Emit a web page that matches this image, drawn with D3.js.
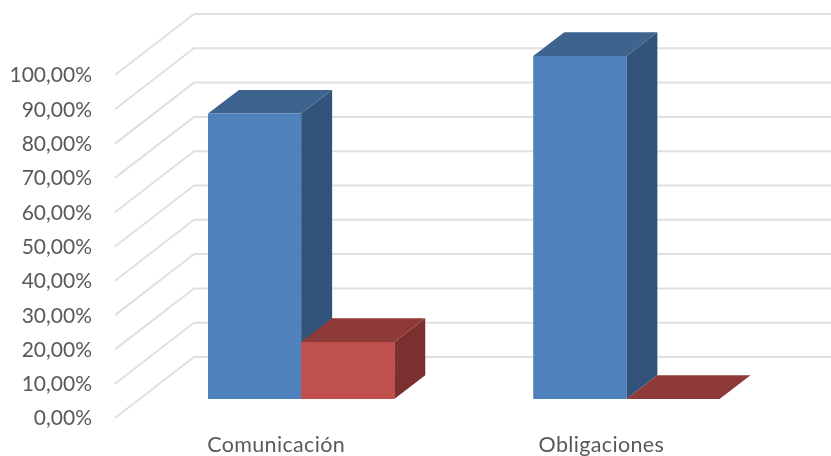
<!DOCTYPE html>
<html><head><meta charset="utf-8">
<script src="https://cdn.jsdelivr.net/npm/d3@7"></script>
<style>html,body{margin:0;padding:0;background:#fff}svg{display:block}</style>
</head><body><svg id="c" width="831" height="456"></svg>
<script>
const categories = ["Comunicación", "Obligaciones"];
const seriesNames = ["A", "B"];
const seriesA = [83.2, 100];
const seriesB = [16.6, 0];
const ticks = [0,10,20,30,40,50,60,70,80,90,100];
const frontColors = ["#4f81bd", "#c0504d"];
const topColors = ["#3e638f", "#8e3a38"];
const sideColors = ["#32547b", "#7a302e"];

const svg = d3.select("#c");
const root = svg.append("g").style("filter", "blur(0.6px)");

const yWall = d3.scaleLinear().domain([0,100]).range([418,75]);
const wall = {dx:79, dy:-61, right:831};
const yBar = d3.scaleLinear().domain([0,100]).range([399,56]);
const depth = {dx:31, dy:-23.7};

const grid = root.append("g");
grid.selectAll("path").data(ticks).join("path")
  .attr("d", t => { const y=yWall(t);
    return d3.line()([[115,y],[115+wall.dx,y+wall.dy],[wall.right,y+wall.dy]]); })
  .attr("fill","none").attr("stroke","#e0e0e0").attr("stroke-width",2);

const axis = d3.axisLeft(yWall).tickValues(ticks).tickSize(0).tickPadding(0)
  .tickFormat(t => t.toFixed(2).replace(".",",")+"%");
const ag = root.append("g").attr("transform","translate(92,0)").call(axis);
ag.select(".domain").remove();
ag.selectAll("text").attr("font-family","Lato, 'Open Sans', sans-serif").attr("font-size",21).attr("fill","#595959").attr("dy","0.33em");

const x0 = d3.scaleBand().domain(categories).range([138.5,789]);
const groupW = 186.3;
const x1 = d3.scaleBand().domain(seriesNames).range([0,groupW]);
const off = (x0.bandwidth()-groupW)/2;

const bars = [];
categories.forEach((c,i)=>{
  [seriesA,seriesB].forEach((s,j)=>bars.push({c,j,v:s[i]}));
});
const g = root.append("g");
bars.forEach(b=>{
  const l = x0(b.c)+off+x1(seriesNames[b.j]), r = l+x1.bandwidth();
  const t = yBar(b.v), bt = yBar(0);
  const poly=(pts,f)=>g.append("polygon").attr("points",pts.map(p=>p.join(",")).join(" ")).attr("fill",f);
  if (b.v>0) poly([[r,t],[r+depth.dx,t+depth.dy],[r+depth.dx,bt+depth.dy],[r,bt]],sideColors[b.j]);
  poly([[l,t],[l+depth.dx,t+depth.dy],[r+depth.dx,t+depth.dy],[r,t]],topColors[b.j]);
  if (b.v>0) poly([[l,t],[r,t],[r,bt],[l,bt]],frontColors[b.j]);
});

root.append("g").selectAll("text").data(categories).join("text")
  .attr("x",c=>x0(c)+x0.bandwidth()/2-25).attr("y",451.5)
  .attr("text-anchor","middle").attr("font-family","Lato, 'Open Sans', sans-serif")
  .attr("font-size",21.5).attr("letter-spacing",0.35).attr("fill","#595959").text(c=>c);
</script></body></html>
